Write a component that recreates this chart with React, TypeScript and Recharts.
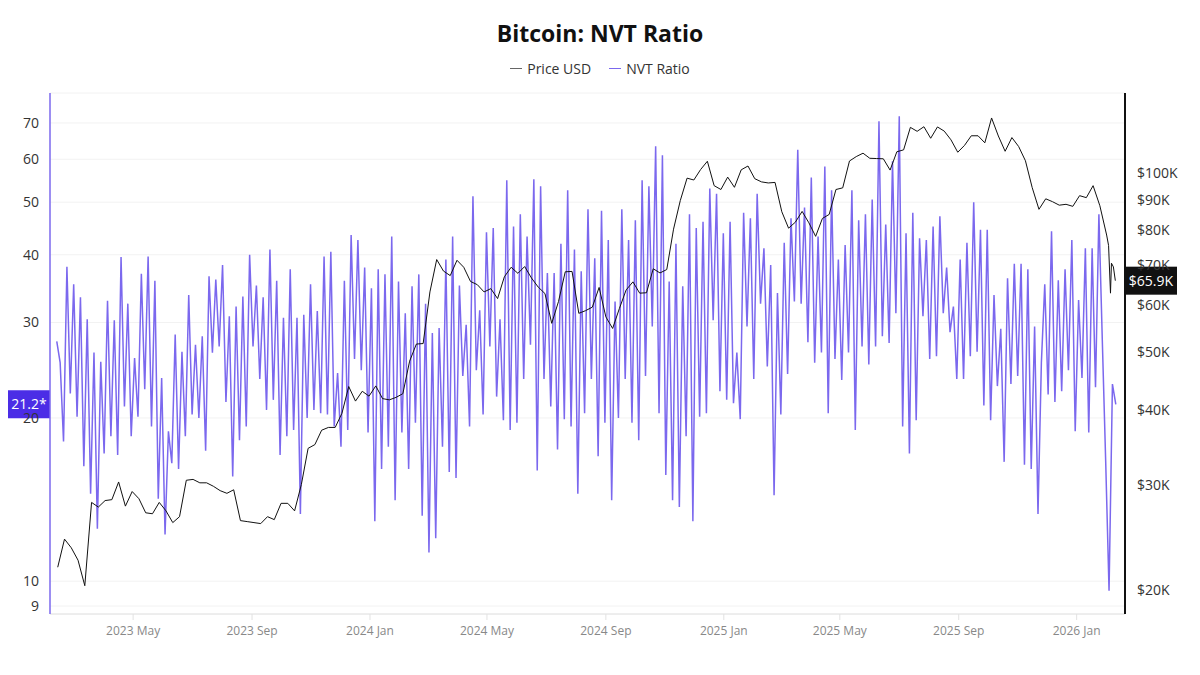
import { CartesianGrid, Line, LineChart, ReferenceLine, XAxis, YAxis } from "recharts";

const DAY = 86400000;

// NVT ratio at half-week steps from 2023-02-11
const NVT_START = Date.UTC(2023, 1, 11);
const NVT_STEP = 3.5 * DAY;

const nvt2023a = [
  27.7, 25.3, 18.1, 38.0, 22.2, 35.3, 20.1, 33.4, 16.3, 30.4,
  14.5, 26.4, 12.5, 25.4, 17.2, 32.9, 18.5, 30.3, 17.1, 39.6,
  21.0, 32.5, 18.5, 25.8, 20.1, 36.9, 22.6, 39.7, 19.3, 35.8,
  14.2, 23.7, 12.2, 18.9, 16.5, 28.5, 16.1, 26.5, 18.5, 33.7,
  20.3, 27.3, 20.0, 28.3, 17.4, 36.5, 26.4, 36.0, 27.1, 38.3,
  21.4, 30.8,
];
const nvt2023b = [
  15.6, 32.1, 18.2, 33.5, 19.3, 40.0, 27.1, 35.1, 23.6, 33.4,
  20.7, 40.9, 21.6, 35.8, 17.1, 30.6, 18.5, 37.6, 19.0, 30.6,
  13.3, 31.0, 20.0, 35.3, 20.7, 31.5, 20.4, 39.7, 20.3, 40.5,
  19.3, 24.2, 17.7, 35.8, 19.0, 43.5, 25.7, 42.6, 24.5, 37.9,
  18.8, 34.7, 12.9, 37.6, 16.1, 36.8, 17.7, 43.2, 14.1, 35.7,
  18.8, 31.2, 16.1, 35.0,
];
const nvt2024a = [
  19.6, 36.8, 13.2, 32.5, 11.3, 28.7, 12.0, 29.3, 17.7, 39.2,
  15.9, 43.2, 15.5, 35.1, 23.9, 29.7, 19.3, 51.3, 24.5, 31.6,
  20.3, 44.0, 27.1, 44.8, 21.9, 30.4, 19.8, 54.9, 19.0, 45.1,
  19.6, 47.5, 23.6, 43.2, 27.3, 55.1, 16.0, 53.5, 23.6, 37.0,
  21.0, 37.0, 17.5, 41.9, 19.9, 52.6, 19.3, 40.9, 14.5, 37.3,
  20.4, 48.5, 23.6,
];
const nvt2024b = [
  39.4, 17.0, 48.2, 19.6, 42.6, 14.1, 32.8, 20.0, 48.5, 23.6,
  42.6, 19.6, 46.3, 18.2, 54.9, 23.9, 53.5, 29.5, 63.4, 20.4,
  61.0, 15.7, 35.7, 14.1, 41.9, 13.7, 35.0, 18.5, 47.5, 12.9,
  44.8, 20.1, 46.0, 20.4, 53.0, 30.3, 51.8, 22.4, 43.8, 21.6,
  46.0, 21.3, 26.4, 19.9, 47.8, 29.5, 46.7, 23.6, 51.8, 32.5,
  41.1, 24.9,
];
const nvt2025a = [
  38.3, 14.4, 34.0, 20.3, 42.1, 24.1, 46.7, 32.8, 62.5, 32.5,
  48.9, 27.6, 55.5, 25.3, 43.2, 26.4, 58.2, 20.4, 52.6, 25.7,
  39.2, 23.5, 41.7, 26.4, 52.6, 19.0, 46.3, 27.1, 47.5, 25.1,
  50.6, 27.1, 70.5, 28.3, 45.5, 27.5, 59.5, 31.2, 72.0, 19.3,
  43.8, 17.2, 47.8, 19.8, 42.9, 30.8, 42.6, 25.7, 45.1, 26.0,
  47.1, 31.2, 37.9, 28.8,
];
const nvt2025b = [
  32.1, 23.6, 39.2, 23.6, 42.1, 26.0, 50.0, 26.5, 44.5, 21.1,
  44.5, 19.8, 33.7, 22.9, 29.2, 16.6, 36.2, 23.1, 38.5, 23.9,
  38.5, 16.4, 37.6, 16.1, 29.5, 13.3, 25.3, 35.3, 22.1, 44.2,
  21.4, 35.9, 22.4, 37.6, 24.5, 42.6, 18.9, 33.0, 23.7, 41.1,
  18.8, 41.1, 22.8, 47.5, 27.9, 16.7, 9.6, 23.1, 21.2,
];

// BTC price in $K, weekly closes from 2023-02-12
const PRICE_START = Date.UTC(2023, 1, 12);
const PRICE_STEP = 7 * DAY;

const price2023 = [
  21.8, 24.3, 23.5, 22.4, 20.3, 28.0, 27.5, 28.2, 28.3, 30.3,
  27.6, 29.2, 28.4, 26.9, 26.8, 28.0, 27.1, 25.9, 26.5, 30.5,
  30.6, 30.2, 30.2, 29.8, 29.3, 29.0, 29.4, 26.1, 26.0, 25.9,
  25.8, 26.5, 26.2, 27.9, 27.9, 27.1, 30.0, 34.5, 35.0, 37.0,
  37.4, 37.4, 39.5, 43.8, 41.4, 43.0, 42.2,
];
const price2024 = [
  43.9, 41.8, 41.6, 42.0, 42.6, 48.3, 51.6, 51.7, 63.1, 71.5,
  68.4, 67.2, 71.3, 69.4, 65.7, 64.9, 63.1, 63.9, 61.5, 66.9,
  69.4, 67.8, 69.6, 66.6, 64.3, 62.7, 55.9, 60.8, 68.2, 68.3,
  58.1, 58.7, 59.5, 64.2, 57.3, 54.8, 59.2, 63.6, 65.6, 62.8,
  62.9, 69.0, 67.9, 68.8, 80.4, 89.8, 97.9, 97.2, 101.2, 104.5,
  95.1, 93.7,
];
const price2025 = [
  98.3, 94.5, 101.1, 102.6, 97.7, 96.5, 96.1, 96.3, 86.0, 80.7,
  82.6, 86.1, 82.4, 78.2, 83.8, 85.1, 93.7, 94.3, 104.6, 106.4,
  107.8, 105.7, 105.6, 105.5, 101.0, 108.4, 109.2, 119.1, 117.3, 119.4,
  114.2, 119.3, 117.4, 113.5, 108.2, 111.1, 115.3, 115.3, 112.2, 123.5,
  115.2, 108.6, 114.5, 110.6, 104.7, 94.4, 86.8, 90.4, 89.4, 88.2,
  88.5, 87.8,
];
const price2026 = [91.5, 90.8, 95.1, 88.0, 78.6];
const priceTailDays = ["2026-02-03", "2026-02-05", "2026-02-06", "2026-02-08", "2026-02-10"];
const priceTail = [75.5, 62.8, 70.5, 69.5, 65.9];

const xTickDays = [
  "2023-05-01", "2023-09-01", "2024-01-01", "2024-05-01", "2024-09-01",
  "2025-01-01", "2025-05-01", "2025-09-01", "2026-01-01",
];
const nvtTicks = [9, 10, 20, 30, 40, 50, 60, 70];
const priceTicks = [20000, 30000, 40000, 50000, 60000, 70000, 80000, 90000, 100000];
const MONTHS = ["Jan", "Feb", "Mar", "Apr", "May", "Jun", "Jul", "Aug", "Sep", "Oct", "Nov", "Dec"];

const nvtValues = [...nvt2023a, ...nvt2023b, ...nvt2024a, ...nvt2024b, ...nvt2025a, ...nvt2025b];
const nvtData = nvtValues.map((v, i) => ({ t: NVT_START + i * NVT_STEP, nvt: v }));

const priceWeekly = [...price2023, ...price2024, ...price2025, ...price2026];
const priceData = [
  ...priceWeekly.map((k, i) => ({ t: PRICE_START + i * PRICE_STEP, price: k * 1000 })),
  ...priceTailDays.map((d, i) => ({ t: Date.parse(d), price: priceTail[i] * 1000 })),
];

const lastNvt = nvtValues[nvtValues.length - 1];
const lastPrice = priceTail[priceTail.length - 1];

const xDomain = [Date.UTC(2023, 1, 4), Date.UTC(2026, 1, 20)];
const xTicks = xTickDays.map((d) => Date.parse(d));

const NVT_COLOR = "#7b68ee";
const PRICE_COLOR = "#111";
const FONT = "'Open Sans', 'Noto Sans', sans-serif";

const fmtMonth = (t: number) => {
  const d = new Date(t);
  return `${d.getUTCFullYear()} ${MONTHS[d.getUTCMonth()]}`;
};
const fmtPrice = (v: number) => `$${Math.round(v / 1000)}K`;

// last-value marker drawn against the axis
function ValueTag(props: any) {
  const { viewBox, side, text, fill } = props;
  if (!viewBox) return null;
  const w = side === "left" ? 42 : 52;
  const x = side === "left" ? viewBox.x - w : viewBox.x + viewBox.width;
  return (
    <g>
      <rect x={x} y={viewBox.y - 14} width={w} height={28} fill={fill} />
      <text x={x + w / 2} y={viewBox.y} dy="0.35em" textAnchor="middle" fill="#fff" fontSize={14}>
        {text}
      </text>
    </g>
  );
}

function LegendItem({ color, label }: { color: string; label: string }) {
  return (
    <span style={{ display: "inline-flex", alignItems: "center", margin: "0 9px" }}>
      <span style={{ display: "inline-block", width: 12, height: 1.5, background: color, marginRight: 5 }} />
      {label}
    </span>
  );
}

export default function App() {
  return (
    <div
      style={{
        position: "absolute",
        left: 0,
        top: 0,
        width: 1200,
        height: 675,
        overflow: "hidden",
        background: "#fff",
        fontFamily: FONT,
      }}
    >
      <div
        style={{
          position: "absolute",
          top: 17,
          width: 1200,
          textAlign: "center",
          fontSize: 23,
          fontWeight: 700,
          color: "#111",
        }}
      >
        Bitcoin: NVT Ratio
      </div>
      <div
        style={{
          position: "absolute",
          top: 54,
          width: 1200,
          textAlign: "center",
          fontSize: 14,
          color: "#333",
        }}
      >
        <LegendItem color="#666" label="Price USD" />
        <LegendItem color={NVT_COLOR} label="NVT Ratio" />
      </div>
      <LineChart width={1200} height={675} margin={{ top: 93, right: 8, bottom: 31, left: 8 }}>
        <CartesianGrid yAxisId="left" vertical={false} stroke="#f2f2f2" />
        <XAxis
          dataKey="t"
          type="number"
          domain={xDomain}
          ticks={xTicks}
          tickFormatter={fmtMonth}
          allowDataOverflow
          height={30}
          axisLine={{ stroke: "#e2e2e2" }}
          tickLine={{ stroke: "#e2e2e2" }}
          tick={{ fill: "#888", fontSize: 12 }}
          tickSize={6}
          tickMargin={6}
        />
        <YAxis
          yAxisId="left"
          orientation="left"
          width={42}
          scale="log"
          domain={[8.7, 79.5]}
          ticks={nvtTicks}
          allowDataOverflow
          axisLine={{ stroke: NVT_COLOR, strokeWidth: 1.5 }}
          tickLine={false}
          tick={{ fill: "#333", fontSize: 14 }}
          tickMargin={5}
        />
        <YAxis
          yAxisId="right"
          orientation="right"
          width={67}
          scale="log"
          domain={[18200, 136000]}
          ticks={priceTicks}
          tickFormatter={fmtPrice}
          allowDataOverflow
          axisLine={{ stroke: PRICE_COLOR, strokeWidth: 2 }}
          tickLine={false}
          tick={{ fill: "#333", fontSize: 14 }}
          tickMargin={6}
        />
        <Line
          yAxisId="left"
          data={nvtData}
          dataKey="nvt"
          name="NVT Ratio"
          stroke={NVT_COLOR}
          strokeWidth={1.5}
          dot={false}
          isAnimationActive={false}
        />
        <Line
          yAxisId="right"
          data={priceData}
          dataKey="price"
          name="Price USD"
          stroke={PRICE_COLOR}
          strokeWidth={1}
          dot={false}
          isAnimationActive={false}
        />
        <ReferenceLine
          yAxisId="left"
          y={lastNvt}
          stroke="none"
          label={<ValueTag side="left" text={`${lastNvt}*`} fill="#4b2de6" />}
        />
        <ReferenceLine
          yAxisId="right"
          y={lastPrice * 1000}
          stroke="none"
          label={<ValueTag side="right" text={`$${lastPrice}K`} fill="#111" />}
        />
      </LineChart>
    </div>
  );
}
